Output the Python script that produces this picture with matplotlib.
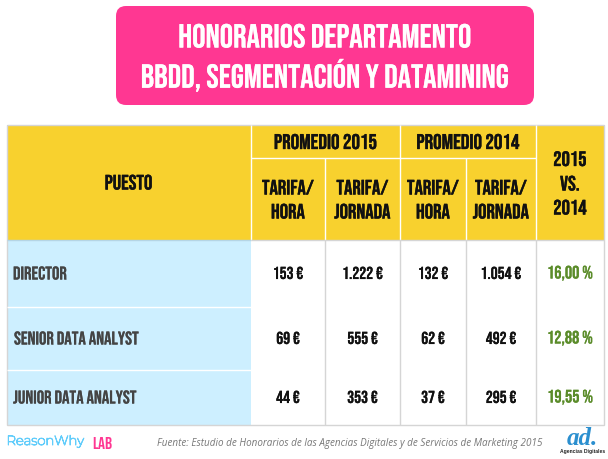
import matplotlib
matplotlib.use('Agg')
import matplotlib.pyplot as plt
import matplotlib.patheffects as pe
from matplotlib import font_manager as fm
from matplotlib.patches import Rectangle, FancyBboxPatch

# data
title_lines = ['HONORARIOS DEPARTAMENTO', 'BBDD, SEGMENTACIÓN Y DATAMINING']
puestos = ['DIRECTOR', 'SENIOR DATA ANALYST', 'JUNIOR DATA ANALYST']
hora_2015 = ['153 €', '69 €', '44 €']
jornada_2015 = ['1.222 €', '555 €', '353 €']
hora_2014 = ['132 €', '62 €', '37 €']
jornada_2014 = ['1.054 €', '492 €', '295 €']
variacion = ['16,00 %', '12,88 %', '19,55 %']
fuente = 'Fuente: Estudio de Honorarios de las Agencias Digitales y de Servicios de Marketing 2015'

YELLOW = '#F8D12E'
PINK = '#FF3792'
LIGHT_BLUE = '#CDEFFF'
GREY = '#D5D5D5'

# Bebas Neue is not on the promised font list, so shrink a wider font if it is gone
installed = {f.name for f in fm.fontManager.ttflist}
HEAD_FONT = 'Bebas Neue' if 'Bebas Neue' in installed else 'Roboto'
HEAD_SCALE = 1.0 if HEAD_FONT == 'Bebas Neue' else 0.62
LOGO_FONT = 'Montserrat' if 'Montserrat' in installed else 'Lato'

# layout in pixels
col_x = [6.5, 251, 325, 400, 466, 536, 604]
row_y = [241, 308, 371, 426]
row_mid = [274, 339, 398]
name_x = [13, 14, 13]
top, mid = 125.5, 159

fig = plt.figure(figsize=(6.08, 4.6), dpi=100)
ax = fig.add_axes([0, 0, 1, 1])
ax.set_xlim(0, 608)
ax.set_ylim(460, 0)
ax.axis('off')


def cell(x0, x1, y0, y1, color):
    ax.add_patch(Rectangle((x0, y0), x1 - x0, y1 - y0, fc=color, ec='none'))


def label(x, y, s, size=15, color='#111111', ha='center', bold=0.25):
    t = ax.text(x, y, s, fontsize=size * HEAD_SCALE, color=color, ha=ha, va='center', family=HEAD_FONT)
    if bold:
        t.set_path_effects([pe.withStroke(linewidth=bold, foreground=color)])


def vline(x, y0, y1, color):
    ax.plot([x, x], [y0, y1], color=color, lw=1, solid_capstyle='butt')


def hline(y, x0, x1, color):
    ax.plot([x0, x1], [y, y], color=color, lw=1, solid_capstyle='butt')


# title box
ax.add_patch(FancyBboxPatch((116, 7), 418, 99, boxstyle='round,pad=0,rounding_size=10',
                            fc=PINK, ec='none'))
label(325, 36.5, title_lines[0], size=24, color='white', bold=0.15)
label(325, 76, title_lines[1], size=24, color='white', bold=0.15)

# table header
cell(col_x[0], col_x[-1], top, row_y[0], YELLOW)
label((col_x[0] + col_x[1]) / 2, 183, 'PUESTO')
label((col_x[1] + col_x[3]) / 2, 142.5, 'PROMEDIO 2015', size=15.3)
label((col_x[3] + col_x[5]) / 2, 142.5, 'PROMEDIO 2014', size=15.3)
for i, sub in enumerate(['HORA', 'JORNADA', 'HORA', 'JORNADA']):
    xc = (col_x[i + 1] + col_x[i + 2]) / 2
    label(xc, 188, 'TARIFA/')
    label(xc, 212, sub)
xc = (col_x[5] + col_x[6]) / 2
for y, s in zip([159.5, 184, 208], ['2015', 'VS.', '2014']):
    label(xc, y, s)

# body
cell(col_x[0], col_x[1], row_y[0], row_y[-1], LIGHT_BLUE)
for y0 in row_y[1:-1]:
    hline(y0, col_x[0], col_x[1], 'white')

columns = [hora_2015, jornada_2015, hora_2014, jornada_2014]
for r in range(3):
    yc = row_mid[r]
    label(name_x[r], yc, puestos[r], size=13.3, color='#444444', ha='left', bold=0.1)
    for c, values in enumerate(columns):
        label((col_x[c + 1] + col_x[c + 2]) / 2, yc, values[r], size=12.5, bold=0.1)
    label((col_x[5] + col_x[6]) / 2, yc, variacion[r], size=13, color='#5B8C2A', bold=0.1)

# grid lines
for x in col_x[1:-1]:
    vline(x, top if x in (col_x[1], col_x[3], col_x[5]) else mid, row_y[0], 'white')
for x in col_x[2:-1]:
    vline(x, row_y[0], row_y[-1], GREY)
hline(mid, col_x[1], col_x[5], 'white')
hline(row_y[0], col_x[0], col_x[1], '#B5D5E5')
hline(row_y[0], col_x[1], col_x[-1], GREY)
ax.add_patch(Rectangle((col_x[0], top), col_x[-1] - col_x[0], row_y[-1] - top, fc='none', ec=GREY, lw=1))

# footer
logo = ax.text(6.5, 442.5, 'ReasonWhy', fontsize=9.5, color='#62CDFB', family=LOGO_FONT, va='center')
logo.set_path_effects([pe.withStroke(linewidth=0.7, foreground='#62CDFB')])
label(92, 443, 'LAB', size=12.5, color=PINK, ha='left', bold=0)
ax.text(157, 444, fuente, fontsize=7.15, color='#777777', style='italic', family='Open Sans', va='center')
ax.text(582, 439, 'ad.', fontsize=18, color='#2B8FCF', style='italic', weight='bold',
        family='Liberation Serif', ha='center', va='center')
ax.text(582.5, 451.5, 'Agencias Digitales', fontsize=3.6, color='#222222', weight='bold',
        family='Liberation Sans', ha='center', va='center')

fig.savefig('out.png', dpi=100)
